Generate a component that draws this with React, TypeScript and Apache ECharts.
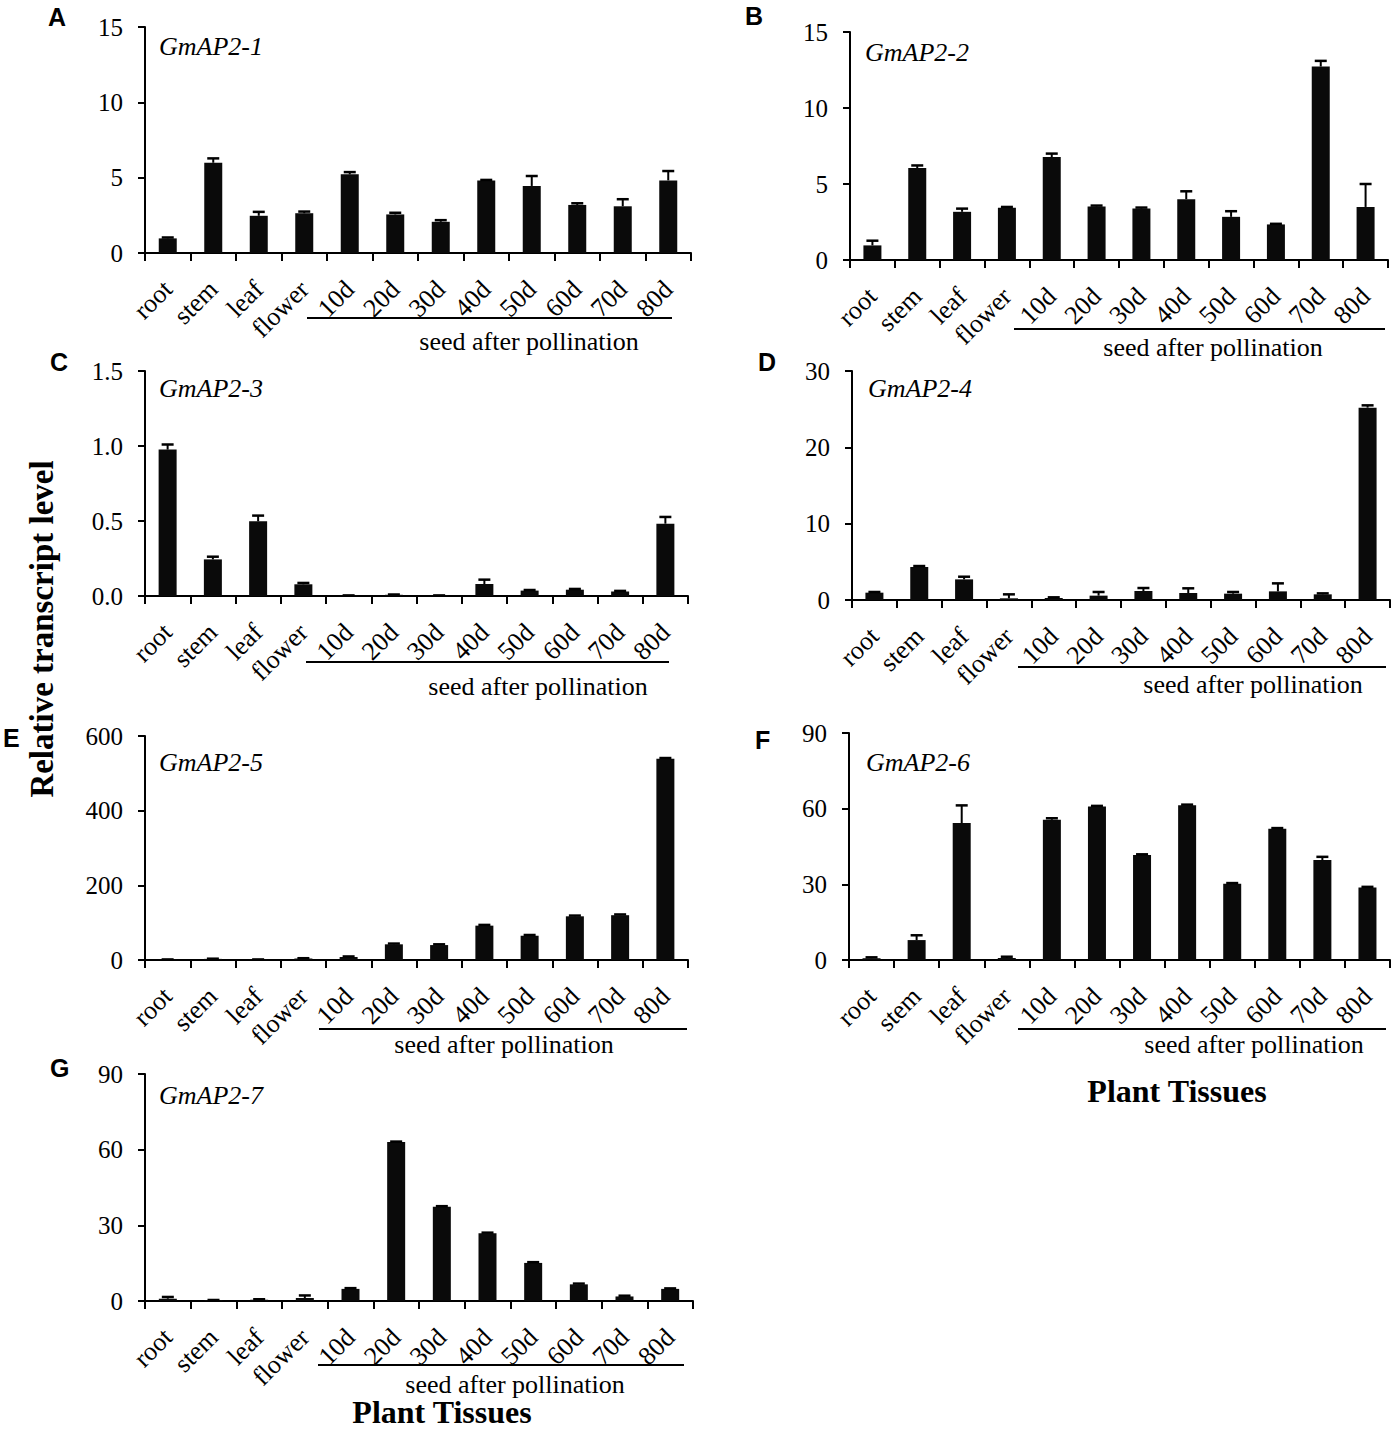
import React, { useEffect, useRef } from "react";
import * as echarts from "echarts";

const categories = ["root", "stem", "leaf", "flower", "10d", "20d", "30d", "40d", "50d", "60d", "70d", "80d"];

const gmap21 = [0.97, 5.99, 2.47, 2.64, 5.22, 2.56, 2.07, 4.82, 4.45, 3.19, 3.1, 4.82];
const gmap21Err = [0.06, 0.29, 0.26, 0.11, 0.15, 0.11, 0.11, 0.03, 0.66, 0.11, 0.47, 0.62];
const gmap22 = [0.96, 6.05, 3.17, 3.43, 6.77, 3.52, 3.38, 4.0, 2.84, 2.34, 12.73, 3.49];
const gmap22Err = [0.31, 0.17, 0.21, 0.06, 0.23, 0.06, 0.07, 0.52, 0.37, 0.04, 0.37, 1.51];
const gmap23 = [0.976, 0.244, 0.498, 0.078, 0.003, 0.008, 0.003, 0.08, 0.036, 0.042, 0.03, 0.482];
const gmap23Err = [0.034, 0.018, 0.038, 0.009, 0.001, 0.002, 0.001, 0.029, 0.004, 0.005, 0.004, 0.045];
const gmap24 = [0.96, 4.32, 2.7, 0.22, 0.26, 0.57, 1.18, 0.92, 0.83, 1.13, 0.74, 25.2];
const gmap24Err = [0.09, 0.13, 0.35, 0.52, 0.09, 0.48, 0.39, 0.61, 0.22, 1.05, 0.13, 0.3];
const gmap25 = [1, 3, 1, 4, 8, 42, 40, 92, 65, 117, 120, 539];
const gmap25Err = [0.5, 0.5, 0.5, 0.8, 1.5, 2, 2, 2, 2, 2, 2, 2];
const gmap26 = [0.7, 7.9, 54.3, 0.8, 55.6, 60.9, 41.6, 61.4, 30.2, 52, 39.6, 28.7];
const gmap26Err = [0.36, 1.9, 7.0, 0.5, 0.6, 0.2, 0.3, 0.2, 0.3, 0.3, 1.3, 0.3];
const gmap27 = [0.9, 0.3, 0.5, 1.2, 4.8, 63, 37.4, 26.9, 15.1, 6.6, 1.8, 4.8];
const gmap27Err = [0.7, 0.1, 0.2, 1.0, 0.3, 0.2, 0.2, 0.2, 0.3, 0.3, 0.3, 0.2];

const geneNames = ["GmAP2-1", "GmAP2-2", "GmAP2-3", "GmAP2-4", "GmAP2-5", "GmAP2-6", "GmAP2-7"];
const panelLetters = ["A", "B", "C", "D", "E", "F", "G"];
const yMax = [15, 15, 1.5, 30, 600, 90, 90];
const yInterval = [5, 5, 0.5, 10, 200, 30, 30];
const seedLabel = "seed after pollination";
const yTitle = "Relative transcript level";
const xTitle = "Plant Tissues";

const SERIF = '"Liberation Serif", "Times New Roman", serif';
const SANS = '"Liberation Sans", Arial, sans-serif';

// layout (pixels)
const grids = [
  { left: 145, top: 27, width: 546, height: 226 },
  { left: 850, top: 32, width: 538, height: 228 },
  { left: 145, top: 371, width: 543, height: 225 },
  { left: 852, top: 371, width: 538, height: 229 },
  { left: 145, top: 736, width: 543, height: 224 },
  { left: 849, top: 733, width: 541, height: 227 },
  { left: 145, top: 1074, width: 548, height: 227 },
];
const letterPos = [
  [48, 17], [745, 16], [50, 362], [758, 362], [3, 738], [755, 740], [50, 1068],
];
const titlePos = [
  [159, 46], [865, 52], [159, 388], [868, 388], [159, 762], [866, 762], [159, 1095],
];
const seedLines = [
  [307, 672, 318], [1014, 1385, 329], [306, 669, 662], [1018, 1386, 667],
  [319, 687, 1029], [1018, 1386, 1029], [318, 684, 1365],
];
const seedText = [
  [529, 341], [1213, 347], [538, 686], [1253, 684], [504, 1044], [1254, 1044], [515, 1384],
];

const values = [gmap21, gmap22, gmap23, gmap24, gmap25, gmap26, gmap27];
const errors = [gmap21Err, gmap22Err, gmap23Err, gmap24Err, gmap25Err, gmap26Err, gmap27Err];

function buildOption() {
  const xAxis: any[] = [];
  const yAxis: any[] = [];
  const series: any[] = [];
  const graphic: any[] = [];
  grids.forEach((g, i) => {
    xAxis.push({
      type: "category",
      gridIndex: i,
      data: categories,
      boundaryGap: true,
      axisLine: { lineStyle: { color: "#000", width: 2 } },
      axisTick: { show: true, length: 8, lineStyle: { color: "#000", width: 2 }, alignWithLabel: false },
      axisLabel: {
        rotate: 45,
        interval: 0,
        margin: 32,
        color: "#000",
        fontFamily: SERIF,
        fontSize: 26,
        align: "right",
        verticalAlign: "middle",
      },
      splitLine: { show: false },
    });
    yAxis.push({
      type: "value",
      gridIndex: i,
      min: 0,
      max: yMax[i],
      interval: yInterval[i],
      axisLine: { show: true, lineStyle: { color: "#000", width: 2 } },
      axisTick: { show: true, length: 7, lineStyle: { color: "#000", width: 2 } },
      axisLabel: {
        margin: 22,
        color: "#000",
        fontFamily: SERIF,
        fontSize: 25,
        formatter: (v: number) => (i === 2 ? v.toFixed(1) : String(v)),
      },
      splitLine: { show: false },
    });
    series.push({
      type: "bar",
      xAxisIndex: i,
      yAxisIndex: i,
      data: values[i],
      barWidth: 18,
      itemStyle: { color: "#0a0a0a" },
      z: 2,
    });
    series.push({
      type: "custom",
      xAxisIndex: i,
      yAxisIndex: i,
      data: values[i].map((v, k) => [k, v, errors[i][k]]),
      encode: { x: 0, y: 1 },
      z: 3,
      renderItem: (params: any, api: any) => {
        const idx = api.value(0);
        const v = api.value(1);
        const e = api.value(2);
        const p0 = api.coord([idx, v]);
        const p1 = api.coord([idx, v + e]);
        const half = 6;
        return {
          type: "group",
          children: [
            { type: "line", shape: { x1: p0[0], y1: p0[1], x2: p1[0], y2: p1[1] }, style: { stroke: "#000", lineWidth: 2 } },
            { type: "line", shape: { x1: p1[0] - half, y1: p1[1], x2: p1[0] + half, y2: p1[1] }, style: { stroke: "#000", lineWidth: 2.5 } },
          ],
        };
      },
    });
    graphic.push({
      type: "text",
      x: letterPos[i][0],
      y: letterPos[i][1],
      style: { text: panelLetters[i], font: `bold 25px ${SANS}`, fill: "#000", align: "left", verticalAlign: "middle", textAlign: "left", textVerticalAlign: "middle" },
    });
    graphic.push({
      type: "text",
      x: titlePos[i][0],
      y: titlePos[i][1],
      style: { text: geneNames[i], font: `italic 26px ${SERIF}`, fill: "#000", align: "left", verticalAlign: "middle", textAlign: "left", textVerticalAlign: "middle" },
    });
    graphic.push({
      type: "line",
      shape: { x1: seedLines[i][0], y1: seedLines[i][2], x2: seedLines[i][1], y2: seedLines[i][2] },
      style: { stroke: "#000", lineWidth: 2 },
    });
    graphic.push({
      type: "text",
      x: seedText[i][0],
      y: seedText[i][1],
      style: { text: seedLabel, font: `26px ${SERIF}`, fill: "#000", align: "center", verticalAlign: "middle", textAlign: "center", textVerticalAlign: "middle" },
    });
  });
  graphic.push({
    type: "text",
    x: 42,
    y: 629,
    rotation: Math.PI / 2,
    style: { text: yTitle, font: `bold 33px ${SERIF}`, fill: "#000", align: "center", verticalAlign: "middle", textAlign: "center", textVerticalAlign: "middle" },
  });
  graphic.push({
    type: "text",
    x: 1177,
    y: 1091,
    style: { text: xTitle, font: `bold 32px ${SERIF}`, fill: "#000", align: "center", verticalAlign: "middle", textAlign: "center", textVerticalAlign: "middle" },
  });
  graphic.push({
    type: "text",
    x: 442,
    y: 1412,
    style: { text: xTitle, font: `bold 32px ${SERIF}`, fill: "#000", align: "center", verticalAlign: "middle", textAlign: "center", textVerticalAlign: "middle" },
  });

  return {
    animation: false,
    backgroundColor: "#fff",
    textStyle: { fontFamily: SERIF },
    grid: grids.map((g) => ({ ...g, containLabel: false, outerBoundsMode: "none" })),
    xAxis,
    yAxis,
    series,
    graphic,
  };
}

export default function App() {
  const ref = useRef<HTMLDivElement>(null);
  useEffect(() => {
    document.body.style.margin = "0";
    if (!ref.current) return;
    const chart = echarts.init(ref.current, undefined, { renderer: "svg" });
    chart.setOption(buildOption() as any);
    return () => chart.dispose();
  }, []);
  return <div ref={ref} style={{ position: "absolute", left: 0, top: 0, width: 1395, height: 1429 }} />;
}
